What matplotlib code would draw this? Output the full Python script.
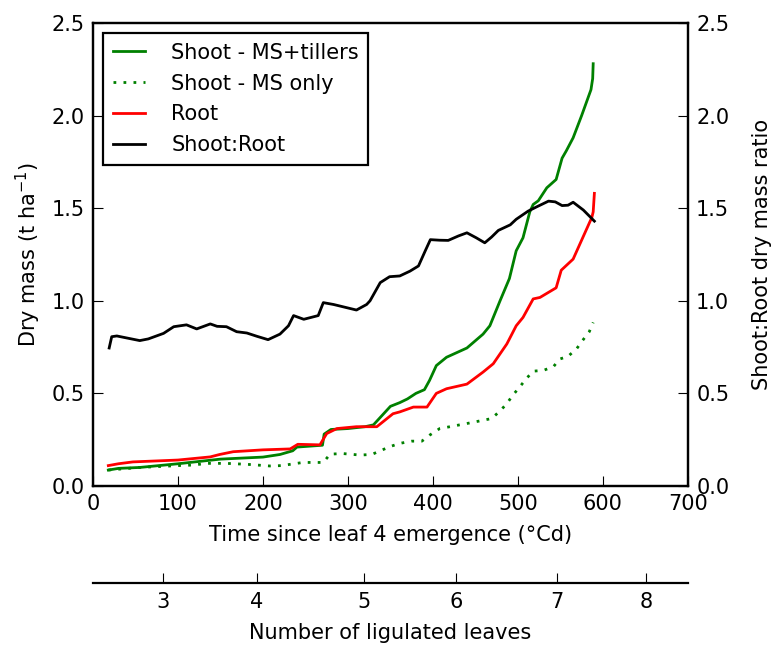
import matplotlib
matplotlib.use('Agg')
import matplotlib.pyplot as plt
import numpy as np

# Shoot - MS+tillers (t/ha)
tt_shoot = [18, 30, 55, 100, 150, 200, 220, 235, 240, 270, 272, 280, 300, 320, 330,
            340, 350, 361, 370, 380, 390, 396, 404, 416, 440, 459, 467, 479, 490,
            498, 506, 514, 518, 524, 534, 545, 552, 557, 565, 575, 586, 588, 588.6]
shoot = [0.086, 0.095, 0.10, 0.12, 0.145, 0.156, 0.17, 0.19, 0.21, 0.22, 0.28, 0.305, 0.31, 0.32, 0.33,
         0.38, 0.43, 0.45, 0.47, 0.50, 0.52, 0.57, 0.65, 0.695, 0.745, 0.82, 0.865, 1.0, 1.12,
         1.27, 1.34, 1.48, 1.52, 1.54, 1.61, 1.655, 1.77, 1.81, 1.88, 2.0, 2.14, 2.2, 2.28]

# Shoot - MS only (t/ha)
tt_ms = [18, 55, 100, 118, 134, 157, 181, 208, 222, 247, 271, 279, 294, 314, 328,
         340, 351, 361, 375, 387, 396, 408, 420, 443, 469, 479, 487, 494, 502, 510,
         518, 530, 542, 549, 559, 569, 576, 584, 588.6]
ms = [0.086, 0.10, 0.11, 0.113, 0.122, 0.122, 0.117, 0.108, 0.11, 0.127, 0.127, 0.172, 0.175, 0.167, 0.17,
      0.194, 0.215, 0.23, 0.242, 0.242, 0.274, 0.31, 0.32, 0.34, 0.364, 0.405, 0.445, 0.49, 0.534, 0.58,
      0.62, 0.624, 0.645, 0.685, 0.70, 0.74, 0.785, 0.833, 0.883]

# Root (t/ha)
tt_root = [18, 30, 47, 100, 138, 149, 165, 200, 232, 241, 267, 275, 287, 310, 334,
           353, 361, 377, 393, 404, 416, 440, 459, 471, 487, 498, 506, 518, 526, 545,
           551, 565, 587, 588.6, 590]
root = [0.11, 0.12, 0.13, 0.14, 0.157, 0.17, 0.185, 0.195, 0.20, 0.225, 0.222, 0.283, 0.31, 0.32, 0.32,
        0.39, 0.40, 0.426, 0.426, 0.50, 0.525, 0.55, 0.615, 0.66, 0.767, 0.865, 0.91, 1.01, 1.018, 1.07,
        1.165, 1.225, 1.45, 1.48, 1.58]

# Shoot:Root ratio
tt_ratio = [19, 22, 28, 55, 65, 83, 95, 110, 122, 138, 146, 157, 169, 181, 193, 206,
            220, 230, 236, 248, 265, 271, 283, 310, 322, 326, 338, 349, 361, 373, 383,
            391, 397, 408, 418, 430, 440, 451, 461, 469, 477, 491, 498, 512, 522, 536,
            544, 552, 559, 565, 577, 590]
ratio = [0.745, 0.806, 0.81, 0.785, 0.794, 0.824, 0.86, 0.87, 0.848, 0.875, 0.862, 0.86, 0.833, 0.826, 0.808, 0.79,
         0.82, 0.865, 0.92, 0.90, 0.92, 0.99, 0.98, 0.95, 0.98, 1.0, 1.098, 1.13, 1.134, 1.16, 1.188,
         1.27, 1.33, 1.327, 1.326, 1.35, 1.367, 1.34, 1.313, 1.344, 1.38, 1.41, 1.44, 1.484, 1.507, 1.538,
         1.534, 1.514, 1.516, 1.532, 1.49, 1.43]

# secondary axis: number of ligulated leaves vs thermal time
leaf_labels = [3, 4, 5, 6, 7, 8]
leaf_tt = [82, 193, 319, 427, 546, 651]

plt.rcParams['font.family'] = 'DejaVu Sans'
plt.rcParams['font.size'] = 15
plt.rcParams['axes.linewidth'] = 1.6
plt.rcParams['xtick.direction'] = 'in'
plt.rcParams['ytick.direction'] = 'in'
plt.rcParams['xtick.major.size'] = 7
plt.rcParams['ytick.major.size'] = 7
plt.rcParams['xtick.major.pad'] = 6
plt.rcParams['ytick.major.pad'] = 6

fig = plt.figure(figsize=(7.72, 6.49), dpi=100)
ax = fig.add_axes([0.1205, 0.2512, 0.7705, 0.7134])

l1, = ax.plot(tt_shoot, shoot, color='#008000', lw=2, label='Shoot - MS+tillers')
l2, = ax.plot(tt_ms, ms, color='#008000', lw=2, dashes=(1, 2.6), label='Shoot - MS only')
l3, = ax.plot(tt_root, root, color='r', lw=2, label='Root')
ax.set_xlim(0, 700)
ax.set_ylim(0, 2.5)
ax.set_yticks(np.arange(0, 2.51, 0.5))
ax.set_xlabel('Time since leaf 4 emergence (°Cd)', labelpad=8)
ax.set_ylabel('Dry mass (t ha$^{-1}$)', labelpad=6)
ax.tick_params(top=False, right=False)

ax2 = ax.twinx()
l4, = ax2.plot(tt_ratio, ratio, color='k', lw=2, label='Shoot:Root')
ax2.set_ylim(0, 2.5)
ax2.set_yticks(np.arange(0, 2.51, 0.5))
ax2.set_ylabel('Shoot:Root dry mass ratio', labelpad=16)

leg = ax.legend(handles=[l1, l2, l3, l4], loc='upper left', fontsize=15,
                fancybox=False, framealpha=1, edgecolor='k', handlelength=1.55,
                handletextpad=1.25, borderaxespad=0.5, borderpad=0.45,
                labelspacing=0.52)
leg.get_frame().set_linewidth(1.6)

ax3 = ax.twiny()
ax3.set_xlim(0, 700)
ax3.xaxis.set_ticks_position('bottom')
ax3.xaxis.set_label_position('bottom')
ax3.spines['bottom'].set_position(('outward', 70))
for s in ['top', 'left', 'right']:
    ax3.spines[s].set_visible(False)
ax3.set_xticks(leaf_tt)
ax3.set_xticklabels([str(v) for v in leaf_labels])
ax3.set_xlabel('Number of ligulated leaves', labelpad=8)

fig.savefig('out.png', dpi=100)
